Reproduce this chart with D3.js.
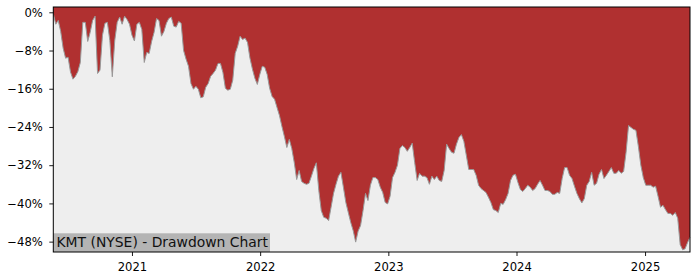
<!DOCTYPE html>
<html>
<head>
<meta charset="utf-8">
<script src="https://cdn.jsdelivr.net/npm/d3@7"></script>
<style>
  body { margin: 0; background: #fff; }
  svg { display: block; font-family: "DejaVu Sans", sans-serif; }
</style>
</head>
<body>
<script>
// weekly drawdown readings (%), first one on startDate
const startDate = '2020-05-22';
const drawdown = [
  -0.3, -2.5, -1.7, -4.0, -7.5, -9.6, -9.4, -12.5, -14.0, -13.4,
  -12.4, -10.5, -2.1, -2.1, -6.1, -4.2, -1.7, -0.8, -12.8, -12.1,
  -4.8, -2.3, -2.1, -5.9, -13.5, -5.9, -2.1, -1.0, -2.5, -0.8,
  -1.5, -2.5, -4.8, -6.0, -2.5, -2.1, -3.6, -10.5, -8.4, -8.6,
  -6.1, -4.2, -1.3, -1.7, -5.0, -4.0, -2.3, -1.3, -1.0, -2.9,
  -3.1, -1.9, -2.3, -8.0, -9.8, -11.3, -14.9, -16.1, -15.5, -16.1,
  -17.9, -17.7, -15.7, -14.9, -13.4, -12.8, -12.1, -10.7, -10.7, -12.6,
  -15.9, -16.3, -16.1, -14.2, -8.6, -7.1, -5.0, -5.7, -5.4, -6.3,
  -9.6, -11.9, -13.8, -15.1, -13.0, -11.3, -11.5, -13.0, -15.9, -17.6,
  -18.2, -19.9, -21.6, -23.9, -26.0, -28.3, -26.6, -28.5, -31.4, -35.0,
  -33.1, -35.4, -35.8, -36.0, -35.8, -34.3, -32.7, -31.5, -37.3, -41.5,
  -42.9, -43.1, -43.6, -40.8, -37.9, -36.0, -34.3, -33.5, -36.6, -39.8,
  -41.9, -44.0, -45.7, -48.1, -45.8, -44.6, -41.5, -37.9, -39.4, -36.2,
  -34.6, -34.6, -35.0, -36.6, -37.7, -39.8, -40.1, -38.5, -34.6, -33.5,
  -32.0, -28.5, -27.9, -28.3, -29.1, -28.3, -27.4, -31.4, -35.2, -33.7,
  -34.3, -34.3, -34.6, -36.0, -34.3, -35.0, -34.3, -35.2, -35.4, -33.1,
  -27.6, -28.5, -29.3, -29.5, -27.6, -26.2, -25.6, -27.0, -29.9, -32.9,
  -32.9, -32.9, -34.1, -36.2, -36.9, -37.3, -37.7, -38.7, -39.8, -41.3,
  -41.5, -41.9, -40.0, -40.2, -39.2, -37.9, -35.2, -34.1, -33.9, -35.6,
  -37.1, -37.5, -36.9, -36.2, -36.6, -37.3, -36.9, -36.0, -35.2, -36.2,
  -37.3, -37.3, -37.5, -38.1, -38.1, -37.7, -37.9, -34.8, -32.5, -32.5,
  -34.1, -34.8, -36.4, -37.9, -39.0, -39.9, -39.0, -36.2, -35.4, -33.5,
  -36.2, -35.8, -33.9, -32.9, -34.8, -34.1, -33.3, -32.5, -33.7, -33.7,
  -33.1, -33.7, -33.3, -29.3, -23.7, -24.1, -24.5, -24.7, -28.1, -32.0,
  -34.6, -36.2, -36.2, -36.2, -36.6, -36.4, -38.5, -40.8, -40.4, -41.3,
  -42.1, -42.1, -42.5, -41.9, -43.1, -48.6, -49.7, -49.5, -48.2, -47.1
];
const yTicks = [0, -8, -16, -24, -32, -40, -48];
const xTicks = ['2021', '2022', '2023', '2024', '2025'];
const label = 'KMT (NYSE) - Drawdown Chart';

const width = 700;
const height = 280;
const plot = { left: 53.3, right: 690, top: 7, bottom: 252 };

const parse = d3.timeParse('%Y-%m-%d');
const t0 = parse(startDate);
const data = drawdown.map((v, i) => ({ date: d3.timeDay.offset(t0, 7 * i), v }));

const x = d3.scaleTime()
  .domain(d3.extent(data, d => d.date))
  .range([plot.left, plot.right]);

const y = d3.scaleLinear()
  .domain([-50.17, 1.11])
  .range([plot.bottom, plot.top]);

const svg = d3.select('body')
  .append('svg')
  .attr('width', width)
  .attr('height', height);

// plot background
svg.append('rect')
  .attr('x', plot.left)
  .attr('y', plot.top)
  .attr('width', plot.right - plot.left)
  .attr('height', plot.bottom - plot.top)
  .attr('fill', '#eeeeee');

// red area from the top edge down to the drawdown
const area = d3.area()
  .x(d => x(d.date))
  .y0(plot.top)
  .y1(d => y(d.v));

svg.append('path')
  .datum(data)
  .attr('d', area)
  .attr('fill', '#b03030');

const line = d3.line()
  .x(d => x(d.date))
  .y(d => y(d.v));

svg.append('path')
  .datum(data)
  .attr('d', line)
  .attr('fill', 'none')
  .attr('stroke', '#999')
  .attr('stroke-width', 1);

// label box
const lab = svg.append('g');
lab.append('rect')
  .attr('x', plot.left)
  .attr('y', 233.3)
  .attr('width', 216.7)
  .attr('height', plot.bottom - 233.3)
  .attr('fill', '#b4b4b4');
lab.append('text')
  .attr('x', 56.5)
  .attr('y', 247.3)
  .attr('font-size', 13.9)
  .attr('fill', '#111')
  .text(label);

// axes
const yAxis = d3.axisLeft(y)
  .tickValues(yTicks)
  .tickSize(4)
  .tickPadding(6.5)
  .tickFormat(d => d3.format('.0f')(d) + '%');

const xAxis = d3.axisBottom(x)
  .tickValues(xTicks.map(s => parse(s + '-01-01')))
  .tickSize(4)
  .tickPadding(7)
  .tickFormat(d3.timeFormat('%Y'));

const gy = svg.append('g')
  .attr('transform', `translate(${plot.left},0)`)
  .call(yAxis);
const gx = svg.append('g')
  .attr('transform', `translate(0,${plot.bottom})`)
  .call(xAxis);

[gx, gy].forEach(g => {
  g.select('.domain').remove();
  g.selectAll('text')
    .attr('font-family', '"DejaVu Sans", sans-serif')
    .attr('font-size', 11.6)
    .attr('fill', '#000');
  g.selectAll('line').attr('stroke', '#000').attr('stroke-width', 0.9);
});

// frame
svg.append('rect')
  .attr('x', plot.left)
  .attr('y', plot.top)
  .attr('width', plot.right - plot.left)
  .attr('height', plot.bottom - plot.top)
  .attr('fill', 'none')
  .attr('stroke', '#000')
  .attr('stroke-width', 1);
</script>
</body>
</html>
